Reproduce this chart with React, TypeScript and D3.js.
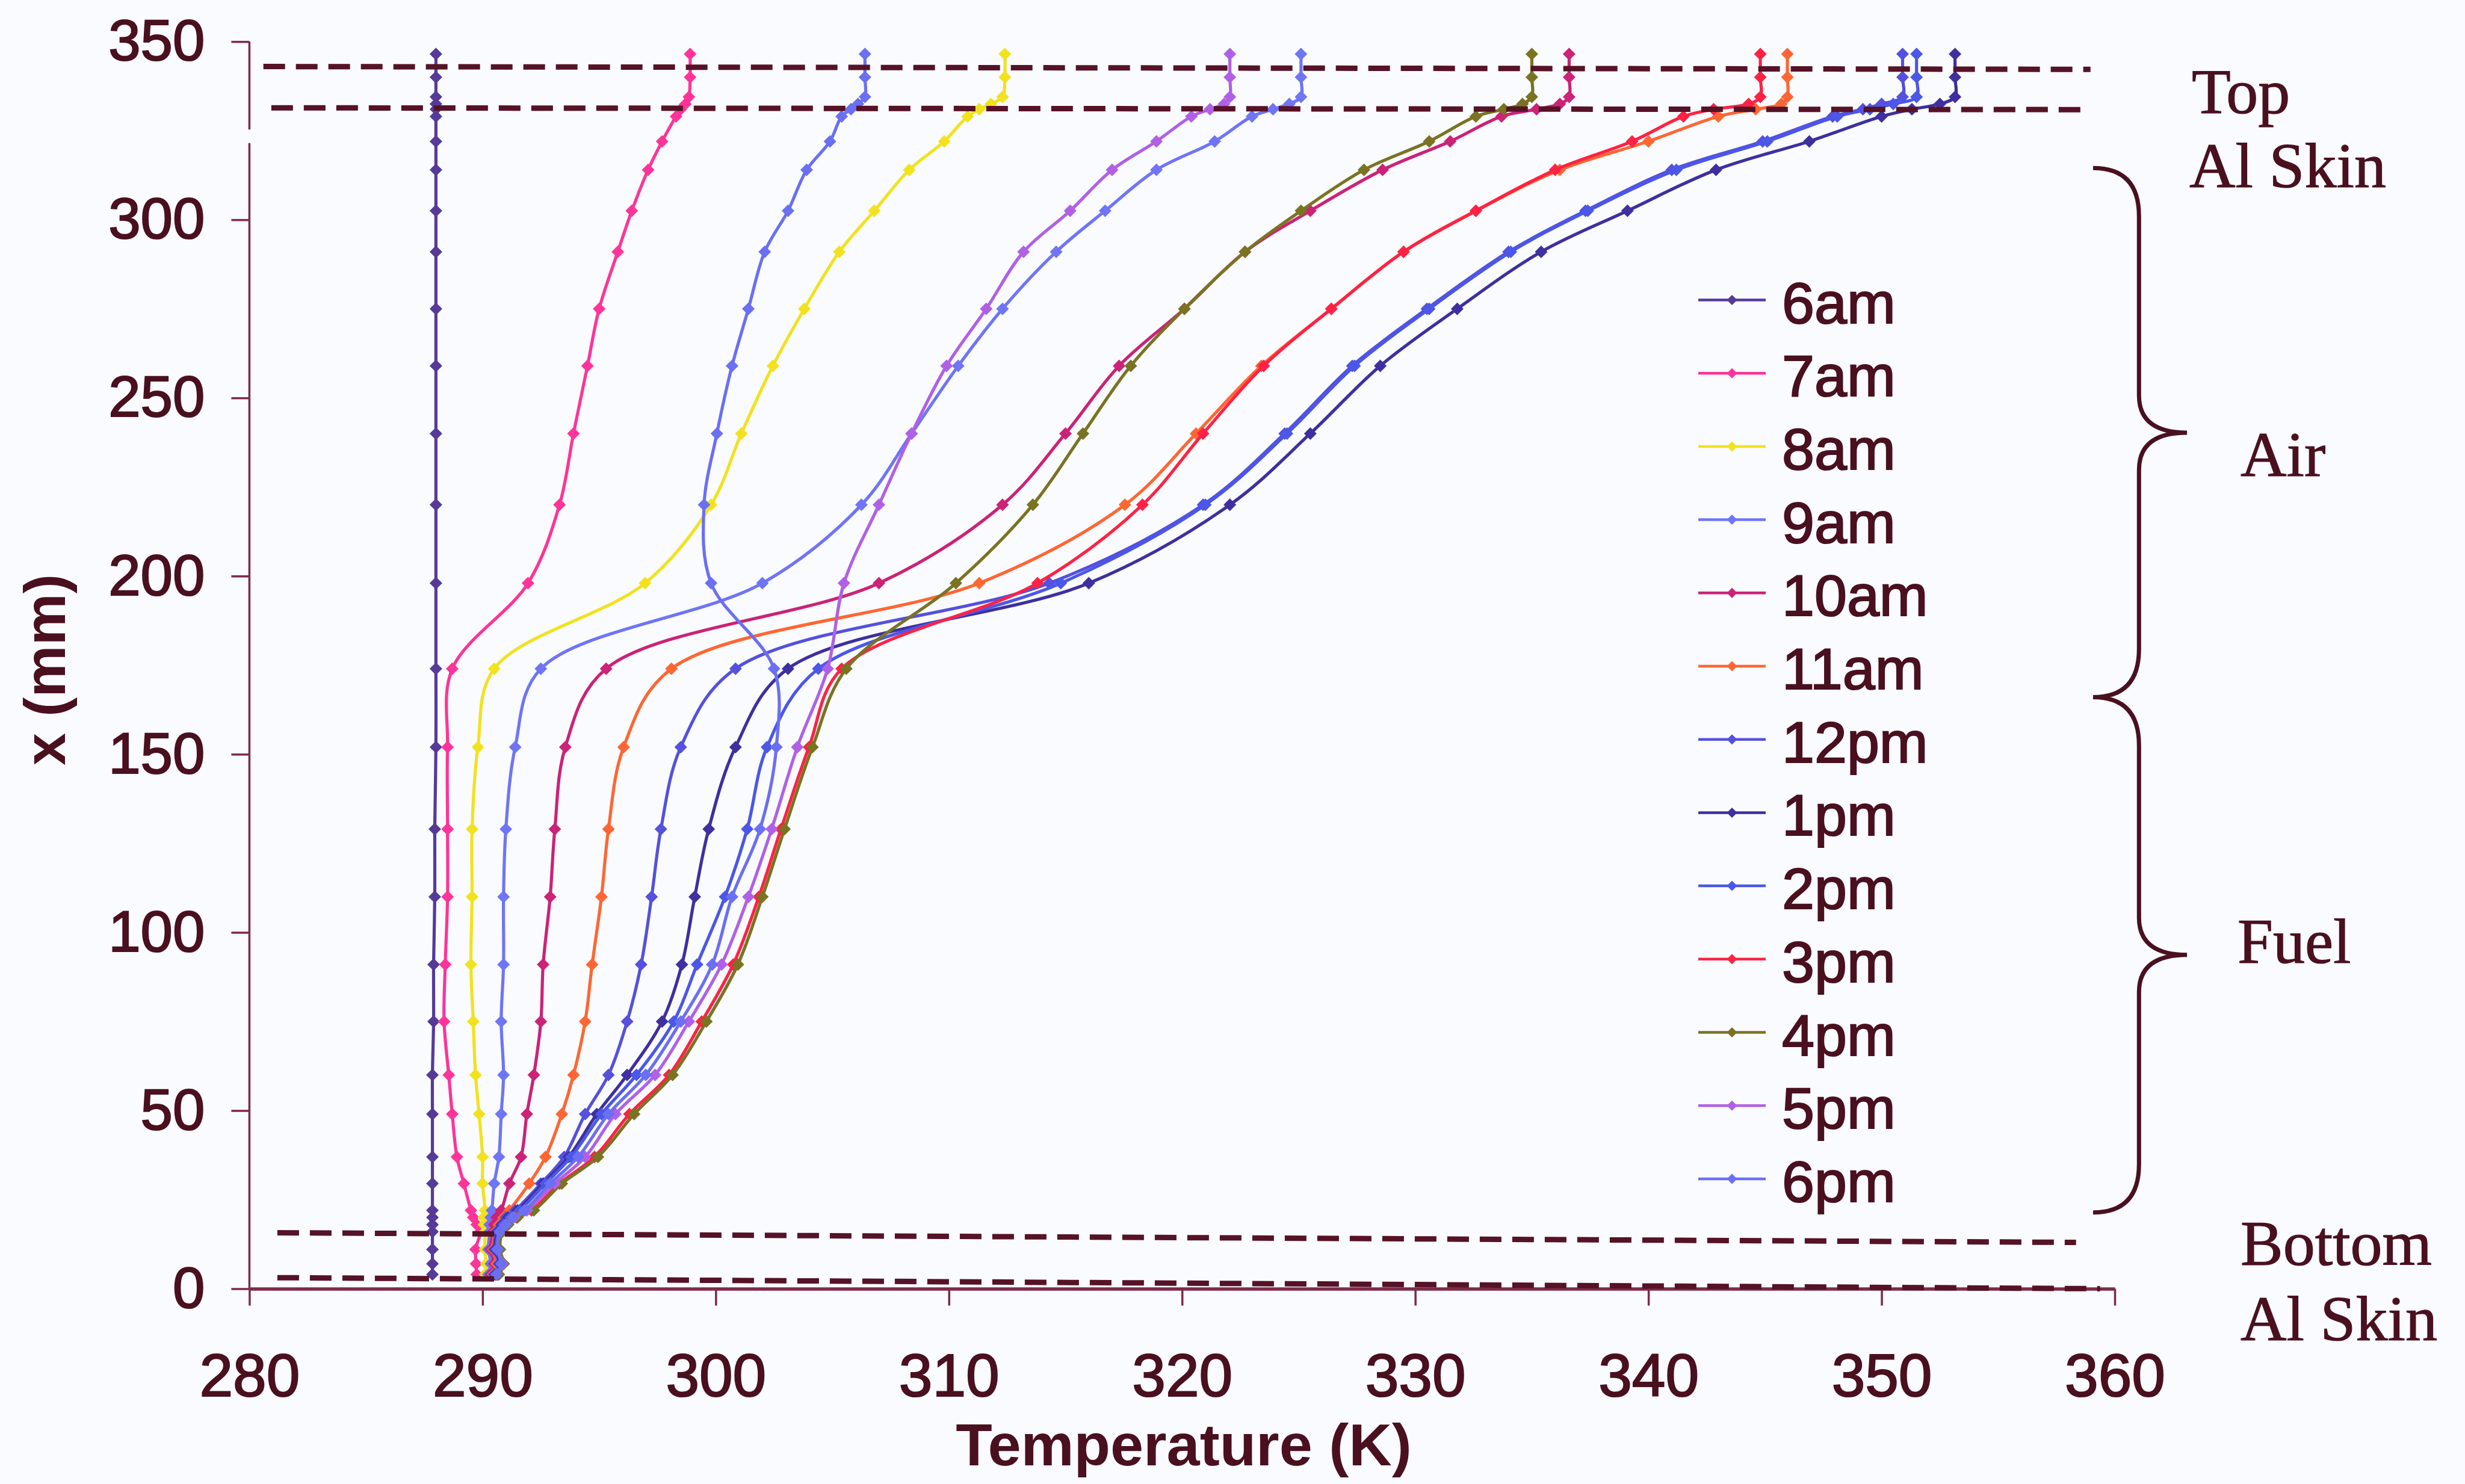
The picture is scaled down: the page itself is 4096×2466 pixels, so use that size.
import { useEffect, useRef } from 'react'
import * as d3 from 'd3'

const W = 4096
const H = 2466

// mesh node heights x (mm), bottom skin -> top skin
const depths = [4, 7, 11, 16, 18, 20, 22, 29.5, 37, 49, 60, 75, 91, 110, 129, 152, 174, 198, 220, 240, 259, 275, 291, 302.5, 314, 322, 329, 331, 332.5, 334.5, 340, 346.5]

const times = ['6am', '7am', '8am', '9am', '10am', '11am', '12pm', '1pm', '2pm', '3pm', '4pm', '5pm', '6pm']
const colors = ['#553a9a', '#ff3399', '#f2e21e', '#6f75f5', '#cc2277', '#ff6633', '#5550dd', '#3f2f9f', '#4b57e8', '#ff2244', '#7a7322', '#b060e6', '#6b6ff2']

// temperature (K) at each node
const t6am = [287.85, 287.85, 287.85, 287.85, 287.85, 287.85, 287.85, 287.85, 287.85, 287.85, 287.85, 287.9, 287.9, 287.95, 287.95, 288.0, 288.0, 288.0, 288.0, 288.0, 288.0, 288.0, 288.0, 288.0, 288.0, 288.0, 288.0, 288.0, 288.0, 288.0, 288.0, 288.0]
const t7am = [289.75, 289.72, 289.7, 289.9, 289.75, 289.6, 289.5, 289.2, 288.9, 288.7, 288.55, 288.35, 288.4, 288.5, 288.5, 288.5, 288.7, 291.95, 293.3, 293.9, 294.5, 295.0, 295.8, 296.4, 297.1, 297.7, 298.3, 298.5, 298.7, 298.85, 298.9, 298.9]
const t8am = [290.1, 290.15, 290.1, 290.1, 290.05, 290.05, 290.1, 290.0, 290.0, 289.85, 289.7, 289.6, 289.5, 289.55, 289.55, 289.8, 290.5, 296.97, 299.8, 301.1, 302.45, 303.8, 305.3, 306.8, 308.3, 309.8, 310.8, 311.3, 311.8, 312.3, 312.4, 312.4]
const t9am = [290.25, 290.35, 290.25, 290.3, 290.3, 290.35, 290.4, 290.5, 290.7, 290.8, 290.9, 290.8, 290.9, 290.9, 291.0, 291.4, 292.5, 302.0, 306.25, 308.4, 310.4, 312.3, 314.6, 316.7, 318.9, 321.4, 323.0, 323.9, 324.6, 325.1, 325.1, 325.1]
const t10am = [290.35, 290.5, 290.35, 290.45, 290.5, 290.6, 290.8, 291.15, 291.65, 291.9, 292.2, 292.5, 292.6, 292.9, 293.1, 293.55, 295.3, 307.0, 312.3, 315.0, 317.3, 320.1, 322.7, 325.5, 328.6, 331.5, 333.7, 335.2, 336.2, 336.6, 336.6, 336.6]
const t11am = [290.45, 290.6, 290.45, 290.55, 290.7, 290.9, 291.15, 292.0, 292.7, 293.4, 293.9, 294.4, 294.7, 295.1, 295.4, 296.05, 298.1, 311.3, 317.55, 320.6, 323.4, 326.4, 329.5, 332.6, 336.2, 340.0, 343.0, 344.6, 345.7, 345.96, 345.96, 345.96]
const t12pm = [290.5, 290.7, 290.5, 290.6, 290.8, 291.0, 291.4, 292.5, 293.5, 294.4, 295.4, 296.2, 296.8, 297.25, 297.65, 298.5, 300.85, 314.3, 320.9, 324.4, 327.3, 330.5, 334.0, 337.3, 341.0, 344.9, 347.9, 349.2, 350.0, 350.9, 350.9, 350.9]
const t1pm = [290.55, 290.75, 290.55, 290.65, 290.85, 291.1, 291.5, 292.6, 293.7, 294.9, 296.2, 297.7, 298.55, 299.1, 299.7, 300.85, 303.1, 316.0, 322.05, 325.5, 328.5, 331.8, 335.4, 339.1, 342.9, 346.9, 350.0, 351.3, 352.5, 353.15, 353.15, 353.15]
const t2pm = [290.6, 290.8, 290.6, 290.7, 290.9, 291.2, 291.6, 292.7, 293.8, 295.1, 296.6, 298.2, 299.2, 300.4, 301.35, 302.2, 304.4, 314.8, 321.0, 324.5, 327.4, 330.6, 334.1, 337.4, 341.2, 345.1, 348.1, 349.5, 350.5, 351.5, 351.5, 351.5]
const t3pm = [290.65, 290.9, 290.7, 290.8, 291.05, 291.45, 292.1, 293.3, 294.8, 296.3, 298.0, 299.4, 300.75, 301.85, 302.8, 304.0, 305.4, 313.8, 318.3, 320.9, 323.5, 326.4, 329.5, 332.6, 336.0, 339.3, 341.5, 342.8, 344.3, 344.8, 344.8, 344.8]
const t4pm = [290.7, 290.9, 290.75, 290.85, 291.1, 291.5, 292.2, 293.4, 294.95, 296.5, 298.15, 299.6, 300.95, 302.0, 302.95, 304.15, 305.6, 310.3, 313.6, 315.75, 317.8, 320.1, 322.7, 325.1, 327.8, 330.6, 332.6, 333.8, 334.6, 335.0, 335.0, 335.0]
const t5pm = [290.6, 290.85, 290.65, 290.75, 291.0, 291.35, 291.9, 293.1, 294.4, 295.7, 297.4, 298.85, 300.25, 301.4, 302.4, 303.5, 304.8, 305.5, 307.0, 308.4, 309.9, 311.6, 313.2, 315.2, 317.0, 318.9, 320.4, 321.2, 321.8, 322.05, 322.05, 322.05]
const t6pm = [290.6, 290.8, 290.65, 290.75, 291.0, 291.3, 291.8, 292.9, 294.1, 295.4, 297.0, 298.5, 299.85, 300.7, 301.9, 302.6, 302.5, 299.8, 299.5, 300.05, 300.7, 301.4, 302.1, 303.1, 303.9, 304.9, 305.4, 305.8, 306.1, 306.4, 306.4, 306.4]

const series = [t6am, t7am, t8am, t9am, t10am, t11am, t12pm, t1pm, t2pm, t3pm, t4pm, t5pm, t6pm]

const xTicks = [280, 290, 300, 310, 320, 330, 340, 350, 360]
const yTicks = [0, 50, 100, 150, 200, 250, 300, 350]

// skin boundaries as drawn: [T start, x start, T end, x end]
const skinLines = [
  [280.6, 343.0, 358.96, 342.2],
  [280.94, 331.4, 358.96, 330.9],
  [281.2, 15.7, 358.34, 13.0],
  [281.2, 3.1, 359.37, 0.0],
]

// braces for the air and fuel layers (x in mm)
const braceSpans = [[314.5, 166], [166, 21.4]]

const sideLabels = ['Top', 'Al Skin', 'Air', 'Fuel', 'Bottom', 'Al Skin']
const sidePos = [[3642, 188], [3638, 311], [3723, 791], [3718, 1600], [3723, 2102], [3723, 2227]]

const sans = 'Liberation Sans, Arial, Helvetica, sans-serif'
const serif = 'Liberation Serif, Times New Roman, serif'
const ink = '#4a1020'
const axisInk = '#7d2a48'

export default function App() {
  const svgRef = useRef<SVGSVGElement | null>(null)

  useEffect(() => {
    if (!svgRef.current) return
    const svg = d3.select(svgRef.current)
    svg.selectAll('*').remove()

    const x = d3.scaleLinear().domain([280, 360]).range([414.4, 3514])
    const y = d3.scaleLinear().domain([0, 350]).range([2141.5, 69.1])

    svg.append('rect').attr('width', W).attr('height', H).attr('fill', '#f9fbfe')

    // x axis
    const gx = svg.append('g').attr('transform', `translate(0,${y(0)})`)
      .call(d3.axisBottom(x).tickValues(xTicks).tickSize(28).tickSizeOuter(0).tickPadding(79).tickFormat(d3.format('d')))
    gx.attr('font-family', sans).attr('font-size', 100)
    gx.select('.domain').attr('stroke', axisInk).attr('stroke-width', 5.5)
    gx.selectAll('.tick line').attr('stroke', axisInk).attr('stroke-width', 3.5)
    gx.selectAll('.tick text').attr('fill', ink).attr('stroke', ink).attr('stroke-width', 2.2)

    // y axis (the scan has a small break in it near the top)
    const gy = svg.append('g').attr('transform', `translate(${x(280)},0)`)
      .call(d3.axisLeft(y).tickValues(yTicks).tickSize(30).tickSizeOuter(0).tickPadding(44))
    gy.attr('font-family', sans).attr('font-size', 96)
    gy.select('.domain').remove()
    gy.selectAll('.tick line').attr('stroke', axisInk).attr('stroke-width', 3.5)
    gy.selectAll('.tick text').attr('fill', ink).attr('stroke', ink).attr('stroke-width', 2.2)
    ;[[0, 321.5], [325.3, 350]].forEach(([a, b]) => {
      gy.append('line').attr('x1', 0).attr('x2', 0).attr('y1', y(a)).attr('y2', y(b))
        .attr('stroke', axisInk).attr('stroke-width', 3.5)
    })

    // axis titles
    svg.append('text').attr('x', 1967).attr('y', 2435).attr('text-anchor', 'middle')
      .attr('font-family', sans).attr('font-weight', 'bold').attr('font-size', 99).attr('fill', ink)
      .text('Temperature (K)')
    svg.append('text').attr('transform', 'translate(108,1113) rotate(-90)').attr('text-anchor', 'middle')
      .attr('font-family', sans).attr('font-weight', 'bold').attr('font-size', 97).attr('fill', ink)
      .text('x (mm)')

    // profiles
    const line = d3.line<[number, number]>()
      .x(d => x(d[0])).y(d => y(d[1]))
      .curve(d3.curveCatmullRom.alpha(0.5))
    const diamond = (r: number) => `M0,${-r}L${r},0L0,${r}L${-r},0Z`

    series.forEach((temps, i) => {
      const pts = temps.map((t, j) => [t, depths[j]] as [number, number])
      const g = svg.append('g')
      g.append('path').attr('d', line(pts)).attr('fill', 'none')
        .attr('stroke', colors[i]).attr('stroke-width', 5.2).attr('stroke-linejoin', 'round')
      g.selectAll('path.m').data(pts).enter().append('path').attr('class', 'm')
        .attr('d', diamond(10.5))
        .attr('transform', d => `translate(${x(d[0])},${y(d[1])})`)
        .attr('fill', colors[i])
    })

    // skin boundaries
    skinLines.forEach(([t1, m1, t2, m2]) => {
      svg.append('line').attr('x1', x(t1)).attr('y1', y(m1)).attr('x2', x(t2)).attr('y2', y(m2))
        .attr('stroke', '#561226').attr('stroke-width', 9).attr('stroke-dasharray', '36,18')
    })

    // legend
    const leg = svg.append('g').attr('transform', 'translate(2822,498.5)')
    times.forEach((label, i) => {
      const row = leg.append('g').attr('transform', `translate(0,${i * 121.7})`)
      row.append('line').attr('x1', 0).attr('x2', 112).attr('stroke', colors[i]).attr('stroke-width', 4.5)
      row.append('path').attr('d', diamond(8.5)).attr('transform', 'translate(56,0)').attr('fill', colors[i])
      row.append('text').attr('x', 139).attr('y', 38).attr('font-family', sans).attr('font-size', 97)
        .attr('fill', ink).attr('stroke', ink).attr('stroke-width', 2.2).text(label)
    })

    // braces
    const xe = x(359.07), xs = x(361.04), xt = x(363.1)
    braceSpans.forEach(([top, bot]) => {
      const y0 = y(top), y1 = y(bot), ym = (y0 + y1) / 2
      const r = 80, rt = 62
      const d = `M${xe},${y0} Q${xs},${y0} ${xs},${y0 + r} L${xs},${ym - rt} Q${xs},${ym} ${xt},${ym}`
        + ` Q${xs},${ym} ${xs},${ym + rt} L${xs},${y1 - r} Q${xs},${y1} ${xe},${y1}`
      svg.append('path').attr('d', d).attr('fill', 'none').attr('stroke', ink).attr('stroke-width', 7)
    })

    // layer names
    sideLabels.forEach((label, i) => {
      svg.append('text').attr('x', sidePos[i][0]).attr('y', sidePos[i][1])
        .attr('font-family', serif).attr('font-size', 106).attr('fill', ink)
        .attr('stroke', ink).attr('stroke-width', 1.2).text(label)
    })
  }, [])

  return <svg ref={svgRef} width={W} height={H} style={{ position: 'absolute', left: 0, top: 0 }} />
}
